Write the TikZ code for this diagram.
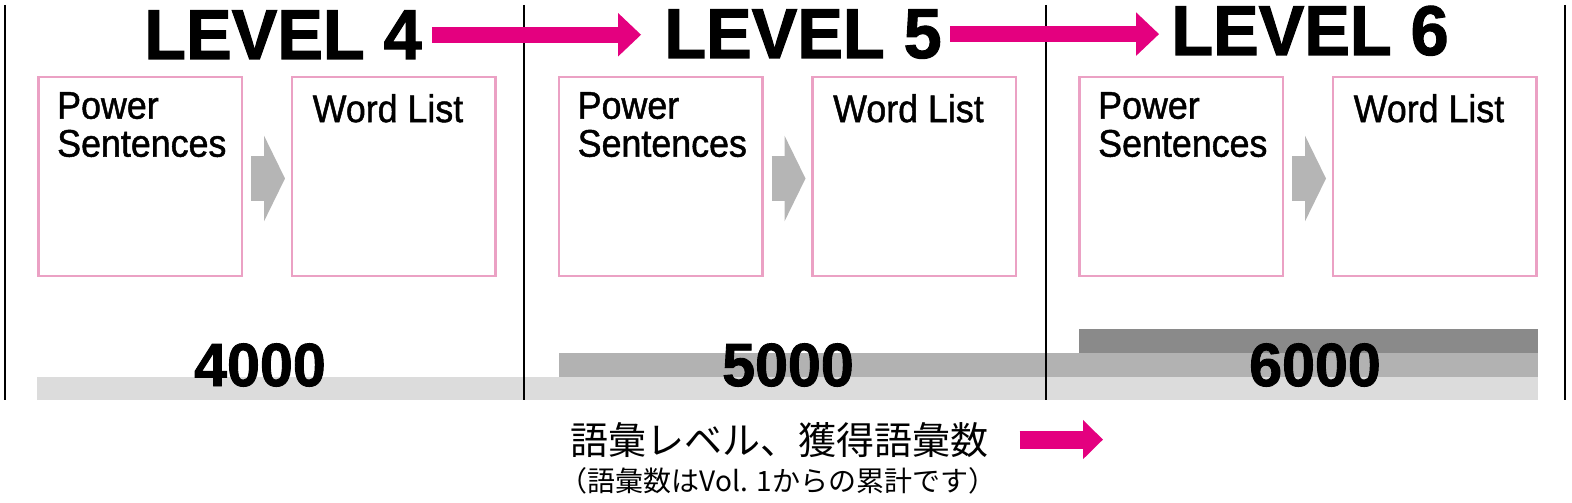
\documentclass[tikz,border=0pt]{standalone}
\usepackage{fontspec}
\setmainfont{Liberation Sans}
\newfontfamily\titlefont[FakeStretch=0.97,FakeBold=1.5]{Liberation Sans Bold}
\newfontfamily\condfont[FakeStretch=0.93,FakeBold=1.2]{Liberation Sans}
\newfontfamily\cjkfont{Noto Sans CJK JP}
\usetikzlibrary{arrows.meta,positioning}

\definecolor{lvmagenta}{rgb}{0.894,0.0,0.498}
\definecolor{lvpink}{rgb}{0.92,0.63,0.77}
\definecolor{lvarrowgray}{rgb}{0.71,0.71,0.71}
\definecolor{lvbar1}{rgb}{0.863,0.863,0.863}
\definecolor{lvbar2}{rgb}{0.70,0.70,0.70}
\definecolor{lvbar3}{rgb}{0.54,0.54,0.54}

\tikzset{
  lvtitle/.style={font=\titlefont\fontsize{70.5}{70}\selectfont,inner sep=0pt,anchor=base},
  lvcount/.style={font=\titlefont\fontsize{61}{61}\selectfont,inner sep=0pt,anchor=base},
  wbox/.style={draw=lvpink,line width=2.5pt,minimum width=203.5pt,minimum height=198.5pt,inner sep=0pt},
  boxtext/.style={font=\condfont\fontsize{38.5}{38}\selectfont,align=left,inner sep=0pt},
  sepline/.style={black,line width=2.2pt},
  magarrow/.style={lvmagenta,line width=16pt,-{Triangle[length=23pt,width=42pt]}},
  grayarr/.style={lvarrowgray,line width=45pt,-{Triangle[length=21pt,width=85pt]}},
}

\begin{document}
\begin{tikzpicture}[x=1pt,y=-1pt]
\useasboundingbox (0,0) rectangle (1572,503);
\fill[lvbar1] (36.5,377) rectangle (1538,400);
\fill[lvbar2] (559,353) rectangle (1538,377);
\fill[lvbar3] (1079,329) rectangle (1538,353);
\foreach \x in {5,524,1046,1565}
  \draw[sepline] (\x,5) -- (\x,400);

\node[lvtitle] (lv4) at (283,59) {LEVEL 4};
\node[lvtitle] (lv5) at (803,58) {LEVEL 5};
\node[lvtitle] (lv6) at (1310,55) {LEVEL 6};
\draw[magarrow,shorten <=10pt,shorten >=23pt] (lv4.east) -- (lv4.east -| lv5.west);
\draw[magarrow,shorten <=8pt,shorten >=12pt] (lv5.east) -- (lv5.east -| lv6.west);

\foreach \lv [count=\i from 0] in {4,5,6} {
  \node[wbox] (ps\lv) at (140+520.5*\i,176.5) {};
  \node[wbox] (wl\lv) at (393.5+520.5*\i,176.5) {};
  \node[boxtext,below right=16pt and 20pt of ps\lv.north west] (pstext\lv) {Power\\Sentences};
  \node[boxtext,below right=18pt and 22pt of wl\lv.north west] (wltext\lv) {Word List};
  \draw[grayarr,shorten <=8pt,shorten >=5.5pt] ([yshift=-2pt]ps\lv.east) -- ([yshift=-2pt]wl\lv.west);
}

\node[lvcount] (n4) at (260,386) {4000};
\node[lvcount] (n5) at (788,386) {5000};
\node[lvcount] (n6) at (1315,386) {6000};

\node[font=\cjkfont\fontsize{38}{38}\selectfont,inner sep=0pt,anchor=base] (jp1) at (779.5,454) {語彙レベル、獲得語彙数};
\node[font=\cjkfont\fontsize{28}{28}\selectfont,inner sep=0pt,anchor=base] (jp2) at (778,491) {（語彙数はVol. 1からの累計です）};
\coordinate (arrend) at (1103,440);
\draw[lvmagenta,line width=18pt,-{Triangle[length=20pt,width=38pt]},shorten <=31pt] (jp1.east) -- (jp1.east -| arrend);
\end{tikzpicture}
\end{document}
